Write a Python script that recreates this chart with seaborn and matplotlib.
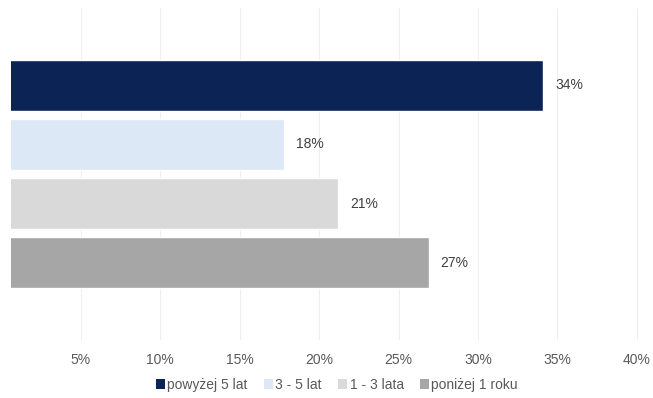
import pandas as pd
import matplotlib
matplotlib.use('Agg')
import matplotlib.pyplot as plt
import seaborn as sns
from matplotlib.patches import Patch

# dane
kategorie = ['powyżej 5 lat', '3 - 5 lat', '1 - 3 lata', 'poniżej 1 roku']
wartosci = [34.1, 17.8, 21.2, 26.9]
etykiety = ['34%', '18%', '21%', '27%']
kolory = ['#0C2455', '#DCE8F6', '#D9D9D9', '#A6A6A6']
ticki = [5, 10, 15, 20, 25, 30, 35, 40]

df = pd.DataFrame({'kat': kategorie, 'val': wartosci})

sns.set_style('white')
plt.rcParams['font.family'] = ['Liberation Sans', 'DejaVu Sans']

fig = plt.figure(figsize=(6.53, 3.98), dpi=100)
ax = fig.add_axes([11/653, 1-340/398, 629/653, 332/398])

sns.barplot(data=df, x='val', y='kat', hue='kat', palette=kolory, orient='h',
            width=0.86, dodge=False, legend=False, saturation=1, ax=ax)

ax.set_xlim(0.6, 40.2)
ax.set_ylim(4.31, -1.31)
ax.set_xticks(ticki)
ax.set_xticklabels([f'{t}%' for t in ticki], fontsize=10, color='#595959')
ax.tick_params(axis='x', length=0, pad=9)
ax.set_yticks([])
ax.set(xlabel='', ylabel='')
ax.grid(axis='x', color='#EFEFEF', linewidth=0.8)
ax.set_axisbelow(True)
for s in ax.spines.values():
    s.set_visible(False)

# etykiety wartosci przy slupkach
for i, (v, e) in enumerate(zip(wartosci, etykiety)):
    ax.annotate(e, (v, i), xytext=(12, 0), textcoords='offset pixels',
                va='center', ha='left', fontsize=10, color='#404040')

uchwyty = [Patch(facecolor=k, edgecolor='none') for k in kolory]
fig.legend(uchwyty, kategorie, loc='center', bbox_to_anchor=(337/653, 1-385/398), ncol=4,
           frameon=False, fontsize=10, handlelength=0.65, handleheight=0.65,
           handletextpad=0.15, columnspacing=1.2, labelcolor='#595959')

fig.savefig('out.png', dpi=100)
